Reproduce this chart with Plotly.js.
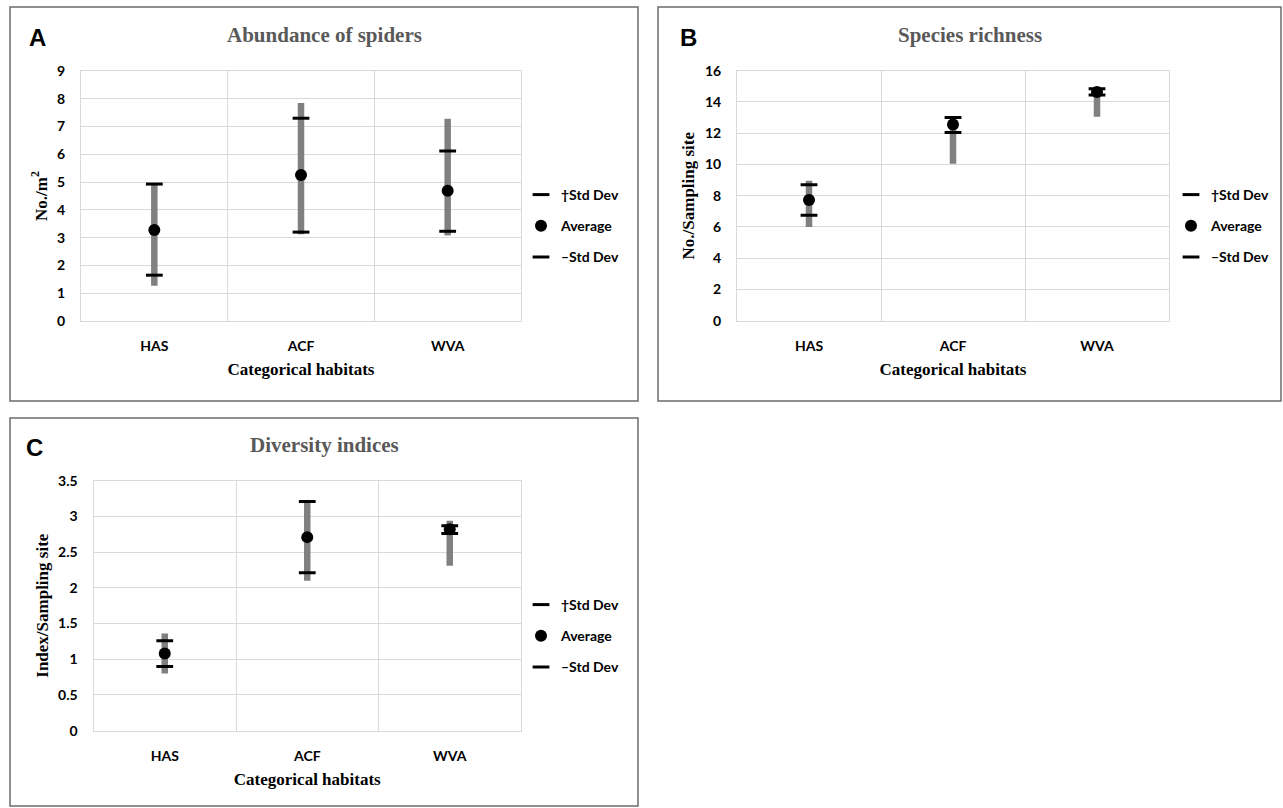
<!DOCTYPE html>
<html>
<head>
<meta charset="utf-8">
<script src="https://cdn.plot.ly/plotly-3.0.1.min.js"></script>
<style>html,body{margin:0;padding:0;background:#fff;}#chart{width:1283px;height:808px;}</style>
</head>
<body>
<div id="chart"></div>
<script>
// ---- Data ----
const categories = ['HAS', 'ACF', 'WVA'];

// Panel A: Abundance of spiders (No./m²)
const abundHigh    = [4.95, 7.85, 7.28];
const abundPlusSD  = [4.93, 7.30, 6.12];
const abundAvg     = [3.28, 5.26, 4.69];
const abundMinusSD = [1.65, 3.20, 3.23];
const abundLow     = [1.27, 3.12, 3.08];

// Panel B: Species richness (No./Sampling site)
const richHigh    = [8.95, 13.00, 14.95];
const richPlusSD  = [8.70, 13.00, 14.85];
const richAvg     = [7.72, 12.55, 14.63];
const richMinusSD = [6.75, 12.05, 14.45];
const richLow     = [6.00, 10.05, 13.05];

// Panel C: Diversity indices (Index/Sampling site)
const divHigh    = [1.36, 3.21, 2.94];
const divPlusSD  = [1.26, 3.21, 2.87];
const divAvg     = [1.08, 2.71, 2.82];
const divMinusSD = [0.90, 2.21, 2.76];
const divLow     = [0.80, 2.10, 2.31];

const legendNames = ['\u2020Std Dev', 'Average', '\u2013Std Dev'];

// ---- Layout helpers ----
const W = 1283, H = 808;
const px = x => x / W;
const py = y => 1 - y / H;

const sansBold = {family: 'Lato, "Open Sans", sans-serif', size: 14, color: '#000', weight: 'bold'};
const serifBold = {family: '"Liberation Serif", "Times New Roman", serif', size: 17, color: '#000', weight: 'bold'};

function panelTraces(xa, ya, leg, high, plus, avg, minus, low) {
  const lx = [], ly = [];
  categories.forEach((c, i) => { lx.push(c, c, null); ly.push(low[i], high[i], null); });
  return [
    {type: 'scatter', mode: 'lines', x: lx, y: ly, xaxis: xa, yaxis: ya,
     line: {color: '#808080', width: 6.5}, showlegend: false, hoverinfo: 'skip'},
    {type: 'scatter', mode: 'markers', name: legendNames[0], x: categories, y: plus, xaxis: xa, yaxis: ya,
     legend: leg, legendgroup: leg + 'p',
     marker: {symbol: 'line-ew', size: 12, color: '#000', line: {color: '#000', width: 3}}},
    {type: 'scatter', mode: 'markers', name: legendNames[1], x: categories, y: avg, xaxis: xa, yaxis: ya,
     legend: leg, legendgroup: leg + 'a',
     marker: {symbol: 'circle', size: 12, color: '#000'}},
    {type: 'scatter', mode: 'markers', name: legendNames[2], x: categories, y: minus, xaxis: xa, yaxis: ya,
     legend: leg, legendgroup: leg + 'm',
     marker: {symbol: 'line-ew', size: 12, color: '#000', line: {color: '#000', width: 3}}}
  ];
}

const data = [].concat(
  panelTraces('x', 'y', 'legend', abundHigh, abundPlusSD, abundAvg, abundMinusSD, abundLow),
  panelTraces('x2', 'y2', 'legend2', richHigh, richPlusSD, richAvg, richMinusSD, richLow),
  panelTraces('x3', 'y3', 'legend3', divHigh, divPlusSD, divAvg, divMinusSD, divLow)
);

function xaxisDef(l, r, anchor) {
  return {
    domain: [px(l), px(r)], anchor: anchor, type: 'category',
    range: [-0.5, 2.5], tickson: 'boundaries', ticks: '',
    showgrid: true, gridcolor: '#d9d9d9', gridwidth: 1,
    showline: true, linecolor: '#d9d9d9', linewidth: 1, mirror: true,
    zeroline: false, tickfont: sansBold, ticklabelstandoff: 12,
    title: {text: 'Categorical habitats', font: serifBold, standoff: 10},
    fixedrange: true
  };
}
function yaxisDef(t, b, anchor, range, dtick, title) {
  return {
    domain: [py(b), py(t)], anchor: anchor, range: range, dtick: dtick,
    showgrid: true, gridcolor: '#d9d9d9', gridwidth: 1,
    showline: true, linecolor: '#d9d9d9', linewidth: 1, mirror: true,
    zeroline: false, ticks: '', tickfont: sansBold, ticklabelstandoff: 12,
    title: {text: title, font: serifBold, standoff: 5},
    fixedrange: true
  };
}
function legendDef(xPix, yPix) {
  return {
    x: px(xPix), y: py(yPix), xanchor: 'left', yanchor: 'middle',
    xref: 'paper', yref: 'paper',
    font: sansBold, bgcolor: 'rgba(0,0,0,0)', borderwidth: 0,
    traceorder: 'grouped', tracegroupgap: 10, itemwidth: 30
  };
}
function box(x0, y0, x1, y1) {
  return {type: 'rect', xref: 'paper', yref: 'paper', x0: px(x0), x1: px(x1), y0: py(y1), y1: py(y0),
          line: {color: '#6b6b6b', width: 1.5}, fillcolor: 'rgba(0,0,0,0)', layer: 'below'};
}
function label(text, x, y, font, xanchor) {
  return {text: text, x: px(x), y: py(y), xref: 'paper', yref: 'paper', showarrow: false,
          xanchor: xanchor, yanchor: 'middle', font: font};
}
const panelTitleFont = {family: '"Liberation Serif", "Times New Roman", serif', size: 21, color: '#595959', weight: 'bold'};
const panelLetterFont = {family: '"Liberation Sans", Arial, sans-serif', size: 24, color: '#000', weight: 'bold'};

const layout = {
  width: W, height: H,
  margin: {l: 0, r: 0, t: 0, b: 0},
  paper_bgcolor: '#fff', plot_bgcolor: '#fff',
  showlegend: true,
  xaxis:  xaxisDef(81, 521, 'y'),
  yaxis:  yaxisDef(71, 321, 'x', [0, 9], 1, 'No./m<sup>2</sup>'),
  xaxis2: xaxisDef(737, 1169, 'y2'),
  yaxis2: yaxisDef(70.7, 320.7, 'x2', [0, 16], 2, 'No./Sampling site'),
  xaxis3: xaxisDef(93.5, 521, 'y3'),
  yaxis3: yaxisDef(480.7, 730.7, 'x3', [0, 3.5], 0.5, 'Index/Sampling site'),
  legend:  legendDef(521, 226),
  legend2: legendDef(1171, 226),
  legend3: legendDef(521, 636),
  shapes: [box(10, 7, 638, 401), box(658, 7, 1281, 401), box(10, 418, 638, 806)],
  annotations: [
    label('A', 27, 37, panelLetterFont, 'left'),
    label('B', 678, 37, panelLetterFont, 'left'),
    label('C', 24, 447, panelLetterFont, 'left'),
    label('Abundance of spiders', 324, 35, panelTitleFont, 'center'),
    label('Species richness', 970, 35, panelTitleFont, 'center'),
    label('Diversity indices', 324, 445, panelTitleFont, 'center')
  ]
};

Plotly.newPlot('chart', data, layout, {displayModeBar: false, staticPlot: true});
</script>
</body>
</html>
